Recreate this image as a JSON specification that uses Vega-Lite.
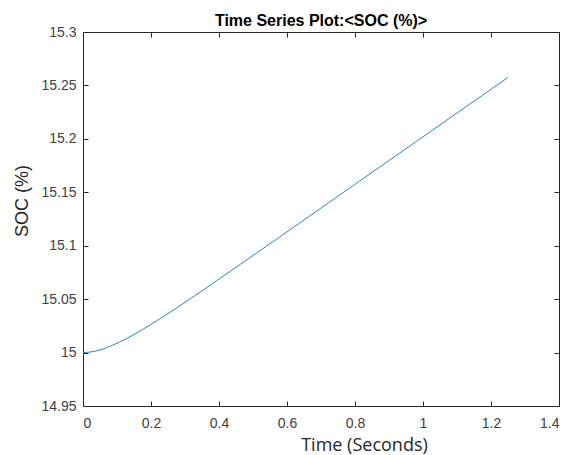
{
  "$schema": "https://vega.github.io/schema/vega-lite/v6.json",
  "width": 476,
  "height": 374,
  "autosize": {"type": "none"},
  "padding": {"left": 83, "top": 32, "right": 15, "bottom": 49},
  "background": "white",
  "title": {
    "text": "Time Series Plot:<SOC (%)>",
    "font": "Liberation Sans",
    "fontSize": 16,
    "fontWeight": "bold",
    "color": "#000000",
    "frame": "group",
    "anchor": "middle",
    "offset": -4
  },
  "data": {
    "values": [
      {"t": 0.0, "soc": 15.0},
      {"t": 0.025, "soc": 15.0007},
      {"t": 0.05, "soc": 15.0025},
      {"t": 0.075, "soc": 15.0053},
      {"t": 0.1, "soc": 15.0087},
      {"t": 0.125, "soc": 15.0126},
      {"t": 0.15, "soc": 15.0169},
      {"t": 0.175, "soc": 15.0215},
      {"t": 0.2, "soc": 15.0264},
      {"t": 0.225, "soc": 15.0314},
      {"t": 0.25, "soc": 15.0365},
      {"t": 0.3, "soc": 15.047},
      {"t": 0.35, "soc": 15.0578},
      {"t": 0.4, "soc": 15.0688},
      {"t": 0.45, "soc": 15.0798},
      {"t": 0.5, "soc": 15.0908},
      {"t": 0.55, "soc": 15.1019},
      {"t": 0.6, "soc": 15.113},
      {"t": 0.7, "soc": 15.1352},
      {"t": 0.8, "soc": 15.1575},
      {"t": 0.9, "soc": 15.1797},
      {"t": 1.0, "soc": 15.2019},
      {"t": 1.1, "soc": 15.2242},
      {"t": 1.2, "soc": 15.2464},
      {"t": 1.25, "soc": 15.2575}
    ]
  },
  "layer": [
    {
      "mark": {"type": "line", "color": "#2f85b8", "strokeWidth": 1, "clip": true, "interpolate": "monotone"},
      "encoding": {
        "x": {
          "field": "t", "type": "quantitative",
          "scale": {"domain": [0, 1.4], "nice": false, "zero": false},
          "axis": {
            "orient": "bottom",
            "title": "Time (Seconds)",
            "values": [0, 0.2, 0.4, 0.6, 0.8, 1, 1.2, 1.4],
            "format": ".3~g",
            "titleX": 281, "titleY": 44, "titleAlign": "center", "titleBaseline": "alphabetic",
            "titleFont": "Open Sans", "titleFontSize": 18, "titleFontWeight": "normal", "titleColor": "#262626",
            "labelFontSize": 14, "labelPadding": 15
          }
        },
        "y": {
          "field": "soc", "type": "quantitative",
          "scale": {"domain": [14.95, 15.3], "nice": false, "zero": false},
          "axis": {
            "orient": "left",
            "title": "SOC (%)",
            "values": [14.95, 15, 15.05, 15.1, 15.15, 15.2, 15.25, 15.3],
            "format": ".4~g",
            "titleX": -56, "titleY": 168.5, "titleAngle": -90, "titleAlign": "center", "titleBaseline": "alphabetic",
            "titleFont": "Liberation Sans", "titleFontSize": 18, "titleFontWeight": "normal", "titleColor": "#262626",
            "labelFontSize": 14, "labelPadding": 12
          }
        }
      }
    },
    {
      "mark": {"type": "line", "opacity": 0},
      "encoding": {
        "x": {
          "field": "t", "type": "quantitative",
          "scale": {"domain": [0, 1.4], "nice": false, "zero": false},
          "axis": {
            "orient": "top", "title": null, "labels": false,
            "values": [0, 0.2, 0.4, 0.6, 0.8, 1, 1.2, 1.4]
          }
        },
        "y": {
          "field": "soc", "type": "quantitative",
          "scale": {"domain": [14.95, 15.3], "nice": false, "zero": false},
          "axis": {
            "orient": "right", "title": null, "labels": false,
            "values": [14.95, 15, 15.05, 15.1, 15.15, 15.2, 15.25, 15.3]
          }
        }
      }
    }
  ],
  "resolve": {"axis": {"x": "independent", "y": "independent"}},
  "config": {
    "view": {"stroke": null},
    "axis": {
      "grid": false,
      "domainColor": "#262626",
      "domainWidth": 1,
      "tickColor": "#262626",
      "tickWidth": 1,
      "tickSize": -5,
      "labelFont": "Liberation Sans",
      "labelColor": "#404040"
    }
  }
}
